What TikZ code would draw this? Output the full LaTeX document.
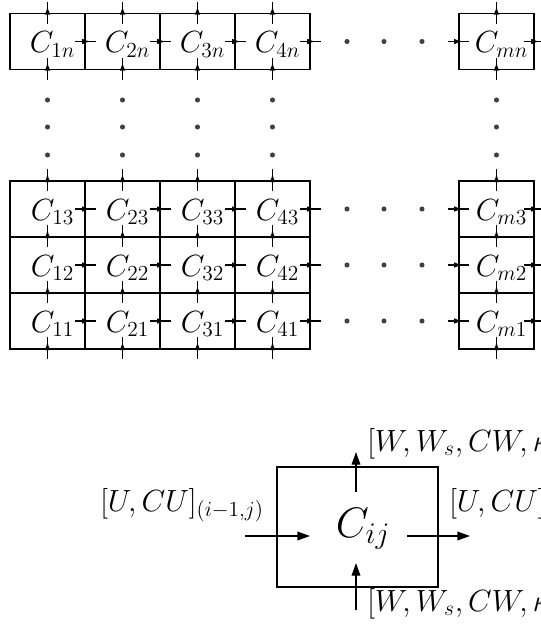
\RequirePackage{fix-cm}
\documentclass[tikz,border=0pt]{standalone}
\usetikzlibrary{arrows.meta,calc,decorations.markings}
\tikzset{
  cell/.style={draw, line width=1.4pt, minimum width=56.25pt, minimum height=42pt, inner sep=0pt, outer sep=0pt},
  lbl/.style={font=\fontsize{23}{27}\selectfont, inner sep=0pt, anchor=base},
  side/.style={font=\fontsize{23}{27}\selectfont, inner sep=0pt},
  hop/.style={line width=0.9pt, postaction={decorate},
    decoration={markings, mark=at position #1 with {\arrow{Latex[length=6pt,width=4.2pt]}}}},
  hop/.default=0.72,
  dotmark/.style={fill=black!75, circle, inner sep=0pt, minimum size=3.8pt},
  bigarrow/.style={line width=1pt, -{Triangle[length=9.5pt,width=6.5pt]}},
}
\begin{document}
\begin{tikzpicture}[x=0.75pt,y=-0.75pt]
\useasboundingbox (0,0) rectangle (541,628);
\clip (0,0) rectangle (541,628);

% grid cells and labels
\foreach \c/\x in {1/47.5,2/122.5,3/197.5,4/272.5,m/496.5}{
  \foreach \r/\y in {n/41.5,3/209,2/265,1/321}{
    \node[cell] (c\c\r) at (\x,\y) {};
    \node[lbl] (l\c\r) at ($(c\c\r.center)+(5,11)$) {$C_{\c\r}$};
    % vertical hop across bottom edge
    \draw[hop=0.77] ($(c\c\r.south)+(0,10)$) -- ($(c\c\r.south)+(0,-12)$);
  }
  % vertical hops across top edges of the top row and of row 3
  \draw[hop=0.77] ($(c\c n.north)+(0,10)$) -- ($(c\c n.north)+(0,-12)$);
  \draw[hop=0.77] ($(c\c 3.north)+(0,10)$) -- ($(c\c 3.north)+(0,-12)$);
  % vertical dots
  \foreach \yy in {100,127,155}{
    \node[dotmark] at (\x,\yy) {};
  }
}

% horizontal hops
\foreach \r in {n,3,2,1}{
  \draw[hop] ($(c1\r.east)+(-10,0)$) -- ($(c2\r.west)+(11,0)$);
  \draw[hop] ($(c2\r.east)+(-10,0)$) -- ($(c3\r.west)+(11,0)$);
  \draw[hop] ($(c3\r.east)+(-10,0)$) -- ($(c4\r.west)+(11,0)$);
  \draw[hop] ($(c4\r.east)+(-10,0)$) -- ++(21,0);
  \draw[hop=0.67] ($(cm\r.west)+(-11,0)$) -- ++(21,0);
  \draw[hop] ($(cm\r.east)+(-10,0)$) -- ++(21,0);
  \foreach \xx in {347,384,422}{
    \node[dotmark] at ($(c4\r.center)+(\xx-272.5,0)$) {};
  }
}

% single cell
\node[draw, line width=1.2pt, minimum width=120.75pt, minimum height=90pt, inner sep=0pt] (cij) at (357.5,527) {};
\node[font=\fontsize{32}{36}\selectfont, inner sep=0pt, anchor=base] (tij) at (363,537) {$C_{ij}$};

\coordinate (inL) at (245,536);
\coordinate (inLtip) at (310,536);
\coordinate (outR) at (407,536);
\coordinate (outRtip) at (470,536);
\coordinate (outT) at (356,492);
\coordinate (outTtip) at (356,452);
\coordinate (inB) at (356,610);
\coordinate (inBtip) at (356,563);
\draw[bigarrow] (inL) -- (inLtip);
\draw[bigarrow] (outR) -- (outRtip);
\draw[bigarrow] (outT) -- (outTtip);
\draw[bigarrow] (inB) -- (inBtip);

\node[side, anchor=base east] (lu) at (264,511) {$[U,CU]_{(i-1,j)}$};
\node[side, anchor=base west] (ru) at (449,511) {$[U,CU]_{(i,j)}$};
\node[side, anchor=base west] (tw) at (367,451) {$[W,W_s,CW,\kappa]_{(i,j)}$};
\node[side, anchor=base west] (bw) at (367,611) {$[W,W_s,CW,\kappa]_{(i,j-1)}$};
\end{tikzpicture}
\end{document}
